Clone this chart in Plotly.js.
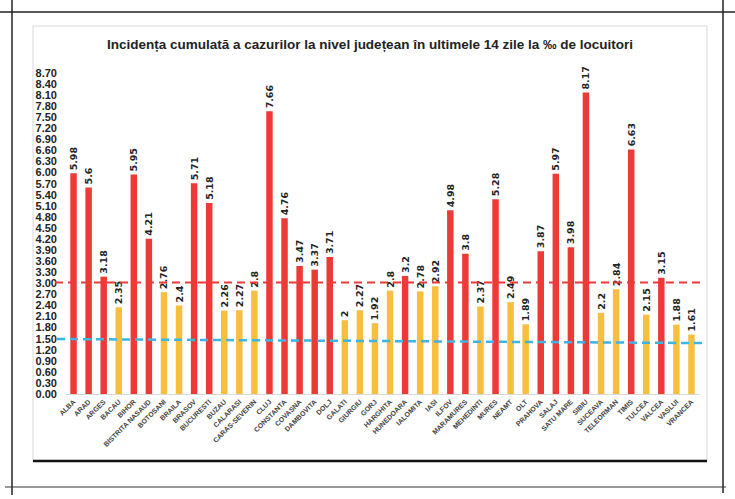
<!DOCTYPE html>
<html>
<head>
<meta charset="utf-8">
<script src="https://cdn.plot.ly/plotly-3.0.1.min.js"></script>
<style>html,body{margin:0;padding:0;background:#fff;}#chart{width:735px;height:499px;}</style>
</head>
<body>
<div id="chart"></div>
<script>
const counties = ["ALBA","ARAD","ARGES","BACAU","BIHOR","BISTRITA NASAUD","BOTOSANI","BRAILA","BRASOV","BUCURESTI","BUZAU","CALARASI","CARAS-SEVERIN","CLUJ","CONSTANTA","COVASNA","DAMBOVITA","DOLJ","GALATI","GIURGIU","GORJ","HARGHITA","HUNEDOARA","IALOMITA","IASI","ILFOV","MARAMURES","MEHEDINTI","MURES","NEAMT","OLT","PRAHOVA","SALAJ","SATU MARE","SIBIU","SUCEAVA","TELEORMAN","TIMIS","TULCEA","VALCEA","VASLUI","VRANCEA"];
const incidence = [5.98,5.6,3.18,2.35,5.95,4.21,2.76,2.4,5.71,5.18,2.26,2.27,2.8,7.66,4.76,3.47,3.37,3.71,2,2.27,1.92,2.8,3.2,2.78,2.92,4.98,3.8,2.37,5.28,2.49,1.89,3.87,5.97,3.98,8.17,2.2,2.84,6.63,2.15,3.15,1.88,1.61];
const labels = ["5.98","5.6","3.18","2.35","5.95","4.21","2.76","2.4","5.71","5.18","2.26","2.27","2.8","7.66","4.76","3.47","3.37","3.71","2","2.27","1.92","2.8","3.2","2.78","2.92","4.98","3.8","2.37","5.28","2.49","1.89","3.87","5.97","3.98","8.17","2.2","2.84","6.63","2.15","3.15","1.88","1.61"];
const threshold = 3.0;
const redLevel = 3.02;
const blueStart = 1.49;
const blueEnd = 1.38;
const yTicks = [];
for (let i = 0; i <= 29; i++) yTicks.push(+(i*0.3).toFixed(2));

const RED = "#EE3A36", YEL = "#F8BE40";
const colors = incidence.map(v => v > threshold ? RED : YEL);

const W = 735, H = 499;
const ml = 66, mr = 36, mt = 73, mb = 105;
const pw = W - ml - mr, ph = H - mt - mb;
const px = x => (x - ml) / pw;
const py = y => (H - mb - y) / ph;

function pline(x0,y0,x1,y1,color,width,dash){
  return {type:"line",xref:"paper",yref:"paper",x0:px(x0),y0:py(y0),x1:px(x1),y1:py(y1),line:{color:color,width:width,dash:dash||"solid"},layer:"above"};
}

const shapes = [
  {type:"rect",xref:"paper",yref:"paper",x0:px(33),x1:px(707),y0:py(461),y1:py(26),line:{color:"#D9D9D9",width:1},layer:"below"},
  pline(0,12,735,12,"#222",1.5),
  pline(12,0,12,495,"#222",1.5),
  pline(723,0,723,493,"#222",1.5),
  pline(5,487,726,487,"#333",1.2),
  pline(33,461,707,461,"#111",2.5),
  {type:"line",xref:"paper",yref:"y",x0:px(55),x1:px(704),y0:redLevel,y1:redLevel,line:{color:"#EE3A36",width:2,dash:"8px,5px"},layer:"above"},
  {type:"line",xref:"paper",yref:"y",x0:px(57),x1:px(704),y0:blueStart,y1:blueEnd,line:{color:"#3CB4E6",width:2.5,dash:"8px,5px"},layer:"above"}
];

const trace = {
  type:"bar", x:counties, y:incidence, marker:{color:colors},
  text:labels, textposition:"outside", textangle:-90, cliponaxis:false, constraintext:"none",
  textfont:{family:"DejaVu Sans, Verdana, sans-serif", size:9.5, color:"#222", weight:"bold"},
  width:0.43, hoverinfo:"none"
};

const layout = {
  width:W, height:H, margin:{l:ml,r:mr,t:mt,b:mb},
  paper_bgcolor:"#fff", plot_bgcolor:"#fff", showlegend:false,
  title:{text:"Incidența cumulată a cazurilor la nivel județean în ultimele 14 zile la ‰ de locuitori",
    font:{family:"Liberation Sans Narrow, Arial Narrow, Liberation Sans, sans-serif", size:13.5, color:"#222", weight:"bold"},
    xref:"container", x:370/W, xanchor:"center", yref:"container", y:1-44/H, yanchor:"middle"},
  xaxis:{type:"category", tickangle:-45, showgrid:false, zeroline:false, showline:true, linecolor:"#D9D9D9", linewidth:1,
    tickfont:{family:"Liberation Sans Narrow, Arial Narrow, sans-serif", size:7, color:"#444", weight:"bold"}, ticks:"", range:[-0.5,41.5]},
  yaxis:{range:[0,8.7], tickvals:yTicks, ticktext:yTicks.map(v=>v.toFixed(2)), showgrid:false, zeroline:false, showline:false, ticks:"",
    tickfont:{family:"Liberation Sans Narrow, Arial Narrow, sans-serif", size:11, color:"#222", weight:"bold"}, ticklabelstandoff:8},
  shapes:shapes
};
Plotly.newPlot("chart",[trace],layout,{staticPlot:true,displayModeBar:false});
</script>
</body>
</html>
